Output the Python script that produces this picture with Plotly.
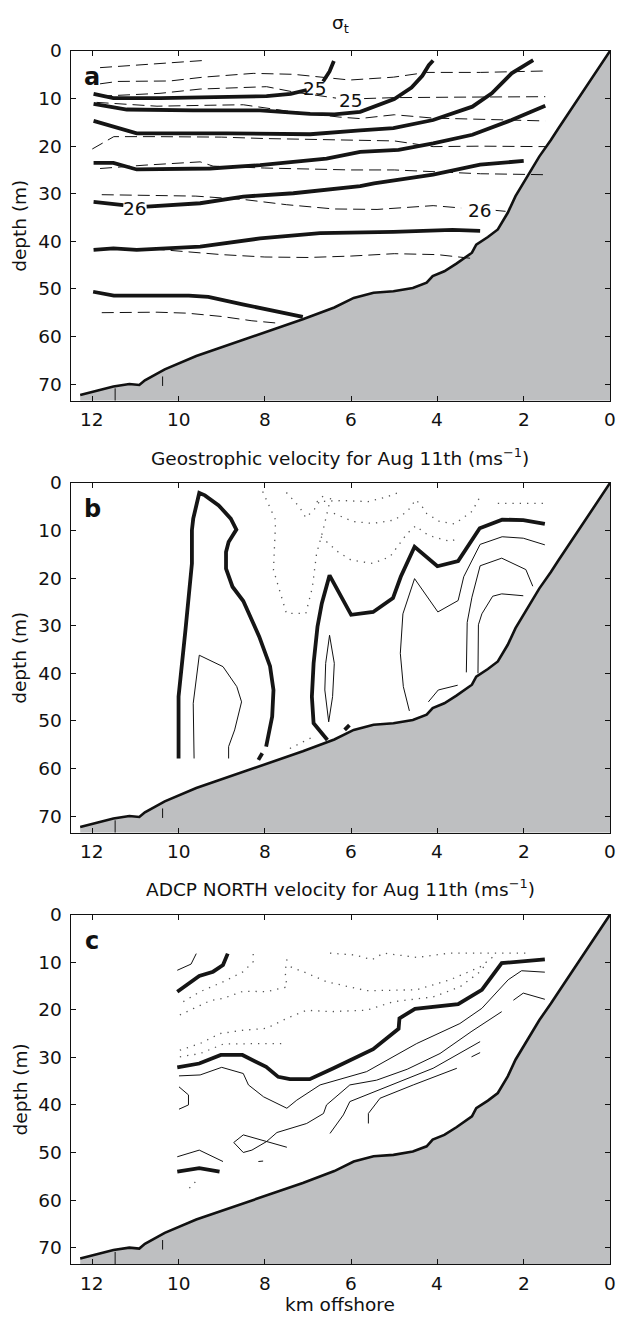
import plotly.graph_objects as go

# ---------------- data ----------------
# bathymetry (km offshore, depth m)
bathy_km = [12.28, 11.87, 11.51, 11.14, 10.91, 10.78, 10.32, 9.59, 8.68, 7.76, 7.12, 6.39, 5.94,
            5.48, 5.02, 4.57, 4.25, 4.11, 3.84, 3.56, 3.20, 3.10, 2.83, 2.60, 2.37, 2.19, 1.92,
            1.64, 1.37, 1.19, 0.0]
bathy_depth = [72.3, 71.4, 70.5, 70.0, 70.2, 69.2, 66.9, 64.1, 61.3, 58.5, 56.4, 53.9, 51.9,
               50.8, 50.5, 49.8, 48.7, 47.3, 46.3, 44.7, 42.4, 40.7, 39.1, 37.5, 34.0, 30.5, 26.3,
               22.2, 18.7, 16.2, 0.0]
station_km = [11.47, 10.37]
station_top = [70.9, 68.4]
station_bottom = [73.5, 70.4]

x_ticks = [12, 10, 8, 6, 4, 2, 0]
y_ticks = [0, 10, 20, 30, 40, 50, 60, 70]
x_range = [12.5, 0]
y_range = [73.5, 0]

# panel a: sigma_t
a_thick = [
    [(11.97, 9.0), (11.51, 9.9), (10.43, 9.9), (8.88, 9.6), (7.96, 9.5), (7.4, 9.0), (7.03, 8.2), None,
     (6.65, 6.4), (6.5, 4.3), (6.4, 2.1)],
    [(11.97, 11.1), (11.5, 11.9), (11.2, 12.3), (9.66, 12.5), (8.11, 12.5), (6.95, 13.2), (6.39, 13.3),
     (5.79, 12.8), (5.38, 11.5), (5.0, 10.1), (4.6, 7.7), (4.35, 5.2), (4.2, 3.0), (4.1, 2.0)],
    [(11.97, 14.7), (11.43, 16.0), (10.97, 17.3), (8.88, 17.3), (6.95, 17.5), (5.79, 16.7), (5.02, 16.2),
     (4.1, 14.5), (3.19, 11.7), (2.74, 8.9), (2.28, 4.7), (1.78, 1.9)],
    [(11.97, 23.5), (11.51, 23.5), (10.97, 24.9), (9.27, 24.7), (8.11, 24.0), (6.57, 22.6), (5.79, 21.2),
     (4.9, 20.8), (4.1, 19.4), (3.19, 17.6), (2.28, 14.5), (1.5, 11.5)],
    [(11.97, 31.7), (11.28, 32.4), None, (10.74, 32.7), (9.5, 32.0), (8.5, 30.6), (7.34, 29.9),
     (5.79, 28.4), (5.47, 27.8), (4.1, 26.0), (3.01, 23.9), (2.0, 23.1)],
    [(11.97, 41.8), (11.51, 41.5), (10.97, 41.8), (9.5, 41.1), (8.11, 39.4), (6.72, 38.3), (5.02, 38.0),
     (3.65, 37.6), (3.01, 37.8)],
    [(11.98, 50.6), (11.5, 51.4), (9.76, 51.4), (9.31, 51.7), (8.49, 53.3), (7.12, 55.9)],
]
a_dashed = [
    [(11.82, 3.5), (10.6, 2.8), (9.43, 2.0)],
    [(11.82, 6.9), (11.42, 6.4), (10.2, 6.3), (9.43, 5.5), (8.27, 4.7), (7.34, 4.9), (6.03, 6.1),
     (5.02, 5.5), (4.25, 4.5), (3.0, 4.5), (1.5, 4.2)],
    [(11.82, 9.5), (10.43, 8.9), (9.5, 8.0), (7.96, 7.5), (7.34, 8.6), (6.6, 9.5), (6.35, 9.9), None,
     (5.7, 10.0), (5.0, 9.8), (3.5, 9.7), (1.5, 9.6)],
    [(11.9, 10.8), (10.5, 11.6), (9.27, 11.4), (8.5, 11.3), (7.5, 12.6), (6.26, 13.9), (5.8, 14.2),
     (5.0, 13.4), (4.1, 14.1), (3.0, 14.4), (1.5, 14.7)],
    [(12.0, 20.6), (11.5, 18.0), (10.5, 18.0), (9.0, 18.1), (8.0, 18.4), (7.0, 18.6), (6.0, 18.8),
     (5.0, 18.9), (4.1, 20.1), (3.0, 20.0), (1.5, 20.1)],
    [(11.82, 24.7), (10.8, 24.0), (9.5, 23.3), (9.2, 24.2), (8.0, 24.6), (7.0, 24.8), (6.0, 25.0),
     (5.0, 25.0), (4.0, 25.4), (3.0, 25.8), (1.5, 26.0)],
    [(11.78, 30.2), (10.5, 30.3), (9.6, 30.5), (8.5, 31.2), (7.5, 32.3), (6.4, 33.2), (5.4, 33.3),
     (4.1, 32.5), (3.45, 33.0), None, (2.65, 33.5), (2.42, 33.7)],
    [(10.6, 41.6), (10.0, 42.0), (9.0, 42.8), (8.0, 43.3), (7.0, 43.4), (6.0, 43.1), (5.0, 42.6),
     (4.0, 42.8), (3.2, 43.6)],
    [(11.78, 55.0), (10.5, 54.9), (9.8, 55.1), (9.0, 55.8), (8.3, 56.7), (7.7, 57.2)],
]
a_labels = [("25", 6.84, 7.8), ("25", 6.0, 10.3), ("26", 11.0, 33.1), ("26", 3.01, 33.5)]

# panel b: geostrophic velocity
b_thick = [
    [(10.0, 57.9), (10.0, 44.9), (9.84, 30.9), (9.69, 16.9), (9.69, 9.9), (9.66, 7.5), (9.52, 2.1),
     (9.39, 2.6), (9.07, 4.7), (8.79, 7.5), (8.66, 9.8), (8.84, 12.4), (8.9, 14.5), (8.9, 18.0),
     (8.75, 21.8), (8.5, 24.8), (8.13, 32.3), (7.88, 38.5), (7.8, 43.5), (7.83, 49.1), (7.97, 55.4),
     None, (8.06, 56.8), (8.15, 58.2)],
    [(6.55, 54.0), (6.87, 50.5), (6.91, 44.9), (6.87, 37.9), (6.78, 30.2), (6.68, 25.3), (6.5, 19.4),
     (6.0, 27.7), (5.49, 27.1), (5.03, 24.2), (4.85, 19.7), (4.53, 13.4), (4.0, 17.5), (3.52, 16.4),
     (3.02, 9.5), (2.5, 7.7), (2.01, 7.8), (1.51, 8.6)],
    [(6.15, 51.9), (6.04, 50.9)],
]
b_thin = [
    [(9.64, 57.9), (9.66, 46.3), (9.52, 36.2), (8.97, 38.6), (8.65, 42.8), (8.54, 46.0), (8.7, 51.9),
     (8.84, 55.4), (8.84, 57.9)],
    [(6.5, 32.0), (6.59, 37.9), (6.61, 43.5), (6.52, 50.2), (6.43, 44.9), (6.39, 37.9), (6.5, 32.0)],
    [(4.65, 47.9), (4.79, 42.8), (4.86, 35.8), (4.8, 27.5), (4.53, 20.1), (3.99, 27.1), (3.52, 24.7),
     (3.39, 19.7), (3.01, 12.9), (2.5, 11.3), (2.01, 11.6), (1.51, 13.0)],
    [(3.33, 39.8), (3.31, 29.3), (3.2, 24.0), (3.01, 17.4), (2.51, 15.8), (1.95, 18.2), (1.79, 21.7)],
    [(3.06, 40.0), (3.05, 29.8), (2.97, 27.5), (2.72, 23.8), (2.51, 23.3), (2.01, 23.7)],
    [(4.21, 46.0), (3.98, 43.5), (3.53, 42.5)],
]
b_dotted = [
    [(8.05, 1.8), (7.75, 7.8), (7.8, 18.3), (7.5, 27.4), (7.05, 27.4), (6.9, 22.0), (6.8, 14.8),
     (6.65, 9.9), (6.45, 2.2)],
    [(7.5, 2.0), (7.2, 5.0), (7.05, 7.3), (6.85, 5.5), (6.6, 2.0)],
    [(6.8, 3.9), (6.2, 3.7), (5.6, 3.9), (5.2, 3.0), (4.9, 2.0)],
    [(6.4, 6.4), (5.95, 8.1), (5.5, 8.5), (5.0, 7.8), (4.7, 6.0), (4.5, 3.5), (4.35, 5.0), (4.25, 6.4),
     (3.95, 8.1), (3.6, 8.6), (3.2, 6.0), (2.97, 2.2)],
    [(6.7, 11.3), (6.3, 14.5), (6.0, 16.2), (5.5, 16.9), (5.1, 15.5), (4.7, 10.6), (4.5, 9.0),
     (4.3, 10.5), (4.1, 11.3), (3.7, 12.3), (3.5, 11.5)],
    [(2.6, 4.3), (2.0, 4.3), (1.55, 4.3)],
    [(7.42, 55.8), (6.87, 53.3)],
]

# panel c: ADCP north velocity
c_thick = [
    [(10.03, 16.2), (9.8, 14.8), (9.52, 12.9), (9.2, 12.0), (8.97, 10.6), (8.86, 8.2)],
    [(10.03, 32.1), (9.52, 31.3), (9.02, 29.5), (8.52, 29.5), (7.97, 32.0), (7.69, 34.1), (7.42, 34.6),
     (6.96, 34.6), (6.41, 32.3), (5.49, 28.3), (4.9, 24.0), (4.88, 21.8), (4.52, 19.8), (3.52, 18.8),
     (2.97, 15.8), (2.51, 10.2), (1.51, 9.4)],
    [(10.03, 54.0), (9.52, 53.3), (9.05, 54.0)],
]
c_thin = [
    [(10.03, 11.7), (9.71, 10.4), (9.59, 8.2)],
    [(9.99, 33.9), (9.5, 33.7), (9.0, 32.1), (8.5, 33.4), (8.38, 35.8), (8.03, 38.3), (7.49, 40.7),
     (7.26, 39.0), (6.72, 35.8), (5.79, 33.4), (5.64, 33.0), (4.48, 27.1), (3.48, 22.9), (2.97, 19.7),
     (2.36, 13.7), (2.05, 11.8), (1.51, 12.1)],
    [(9.99, 36.2), (9.77, 37.9), (9.77, 40.0), (9.99, 40.9)],
    [(7.49, 48.9), (8.5, 46.3), (8.72, 47.9), (8.5, 50.0), (8.3, 49.5), (7.96, 47.7), (7.72, 45.8),
     (7.03, 43.9), (6.64, 41.8), (6.57, 40.0), (6.03, 35.8), (5.41, 34.8), (4.7, 32.5), (3.94, 29.2),
     (3.2, 24.5), (2.51, 20.4)],
    [(6.49, 46.0), (6.18, 42.1), (6.03, 39.3), (5.17, 36.2), (4.1, 32.3), (3.01, 26.7)],
    [(3.21, 29.9), (3.01, 29.0)],
    [(5.6, 43.9), (5.6, 41.8), (5.33, 38.6), (4.56, 35.8), (3.55, 32.3)],
    [(2.24, 18.0), (2.01, 16.5), (1.51, 17.8)],
    [(10.03, 50.9), (9.52, 49.5), (8.97, 51.9)],
    [(8.15, 51.9), (8.04, 51.8)],
]
c_dotted = [
    [(9.97, 21.1), (9.66, 19.7), (9.27, 18.1), (8.96, 17.6), (8.5, 16.1), (7.96, 16.2), (7.49, 15.2),
     (7.53, 12.0), (7.49, 9.5), (7.45, 8.2)],
    [(7.4, 11.0), (7.03, 12.3), (6.57, 14.1), (5.64, 16.0), (4.48, 15.8), (3.71, 13.7), (3.01, 11.0),
     (2.7, 8.8)],
    [(9.89, 18.3), (9.5, 16.2), (8.96, 14.1), (8.5, 12.0), (8.27, 9.9), (8.27, 8.2)],
    [(9.97, 28.5), (9.5, 27.1), (9.04, 25.0), (8.5, 24.3), (7.96, 23.9), (7.49, 21.8), (7.03, 20.1),
     (6.49, 20.4), (5.64, 20.1), (5.02, 18.3), (4.1, 17.3), (3.48, 15.2), (3.01, 12.0), (2.85, 10.0)],
    [(9.97, 29.9), (9.5, 29.2), (8.96, 27.2), (8.5, 27.1), (7.96, 27.1), (7.49, 27.1)],
    [(6.49, 8.1), (5.9, 8.5), (5.52, 9.5), (5.25, 8.1), (4.48, 9.0), (3.71, 8.1), (2.55, 8.1), (1.93, 8.1)],
    [(9.75, 57.5), (9.57, 55.8)],
]

panel_letters = ["a", "b", "c"]
panel_titles = ["σ<sub>t</sub>",
                "Geostrophic velocity for Aug 11th (ms<sup>−1</sup>)",
                "ADCP NORTH velocity for Aug 11th (ms<sup>−1</sup>)"]

# ---------------- layout geometry (pixels) ----------------
W, H = 617, 1318
PX_L, PX_R = 70.7, 610.0
PANELS_PX = [(51.0, 400.7), (483.0, 832.7), (914.6, 1264.3)]
TITLE_Y = [24, 457, 888]
XLABEL_Y = 1304
XTICK_OFFSET = 19
FONT = "DejaVu Sans, Verdana, sans-serif"
FS = 18.5

THICK = dict(color="#151515", width=3.8)
THIN = dict(color="#111111", width=1.0)
DASHED = dict(color="#111111", width=1.0, dash="12px,6px")
DOTTED = dict(color="#555555", width=1.3, dash="1.3px,6px")


def xy(line):
    xs, ys = [], []
    for p in line:
        if p is None:
            xs.append(None)
            ys.append(None)
        else:
            xs.append(p[0])
            ys.append(p[1])
    return xs, ys


fig = go.Figure()

panel_sets = [
    [(a_dashed, DASHED), (a_thick, THICK)],
    [(b_dotted, DOTTED), (b_thin, THIN), (b_thick, THICK)],
    [(c_dotted, DOTTED), (c_thin, THIN), (c_thick, THICK)],
]

for i in range(3):
    sfx = "" if i == 0 else str(i + 1)
    xa, ya = "x" + sfx, "y" + sfx
    # sea floor fill
    fx = bathy_km + [bathy_km[-1], bathy_km[0]]
    fy = bathy_depth + [y_range[0], y_range[0]]
    fig.add_trace(go.Scatter(x=fx, y=fy, mode="lines", fill="toself", fillcolor="#bebfc1",
                             line=dict(width=0, color="#bebfc1"), hoverinfo="skip",
                             showlegend=False, xaxis=xa, yaxis=ya))
    for lines, style in panel_sets[i]:
        for ln in lines:
            lx, ly = xy(ln)
            fig.add_trace(go.Scatter(x=lx, y=ly, mode="lines", line=style, showlegend=False,
                                     hoverinfo="skip", xaxis=xa, yaxis=ya))
    # station sticks
    sx, sy = [], []
    for k, t, b in zip(station_km, station_top, station_bottom):
        sx += [k, k, None]
        sy += [t, b, None]
    fig.add_trace(go.Scatter(x=sx, y=sy, mode="lines", line=dict(color="#111", width=1),
                             showlegend=False, hoverinfo="skip", xaxis=xa, yaxis=ya))
    # bathymetry line
    fig.add_trace(go.Scatter(x=bathy_km, y=bathy_depth, mode="lines",
                             line=dict(color="#111", width=2.6), showlegend=False,
                             hoverinfo="skip", xaxis=xa, yaxis=ya))

layout = dict(width=W, height=H, margin=dict(l=0, r=0, t=0, b=0),
              paper_bgcolor="white", plot_bgcolor="white", showlegend=False,
              font=dict(family=FONT, size=FS, color="#111"))
annotations = []
for i in range(3):
    top, bot = PANELS_PX[i]
    key = "" if i == 0 else str(i + 1)
    common = dict(showgrid=False, zeroline=False, showline=True, linecolor="#111", linewidth=1.2,
                  mirror="ticks", ticks="inside", ticklen=5, tickwidth=1, tickcolor="#111",
                  tickfont=dict(family=FONT, size=FS, color="#111"), automargin=False)
    layout["xaxis" + key] = dict(common, domain=[PX_L / W, PX_R / W], range=x_range,
                                 tickvals=x_ticks, showticklabels=False, anchor="y" + key)
    layout["yaxis" + key] = dict(common, domain=[1 - bot / H, 1 - top / H], range=y_range,
                                 tickvals=y_ticks, ticktext=[str(v) for v in y_ticks],
                                 anchor="x" + key, ticklabelstandoff=4)
    # x tick labels placed on the axis scale
    for v in x_ticks:
        annotations.append(dict(text=str(v), x=v, y=1 - (bot + XTICK_OFFSET) / H,
                                xref="x" + key, yref="paper", showarrow=False,
                                font=dict(family=FONT, size=FS, color="#111"),
                                xanchor="center", yanchor="middle"))
    # panel title
    annotations.append(dict(text=panel_titles[i], x=(PX_L + PX_R) / 2 / W, y=1 - TITLE_Y[i] / H,
                            xref="paper", yref="paper", showarrow=False,
                            font=dict(family=FONT, size=FS, color="#111"),
                            xanchor="center", yanchor="middle"))
    # y label
    annotations.append(dict(text="depth (m)", x=20 / W, y=1 - (top + bot) / 2 / H,
                            xref="paper", yref="paper", showarrow=False, textangle=-90,
                            font=dict(family=FONT, size=FS, color="#111"),
                            xanchor="center", yanchor="middle"))
    # panel letter
    annotations.append(dict(text="<b>" + panel_letters[i] + "</b>", x=12.0, y=5.5,
                            xref="x" + key, yref="y" + key, showarrow=False,
                            font=dict(family=FONT, size=24, color="#111"),
                            xanchor="center", yanchor="middle"))

for txt, kx, dy in a_labels:
    annotations.append(dict(text=txt, x=kx, y=dy, xref="x", yref="y", showarrow=False,
                            font=dict(family=FONT, size=FS, color="#111"),
                            xanchor="center", yanchor="middle"))

annotations.append(dict(text="km offshore", x=(PX_L + PX_R) / 2 / W, y=1 - XLABEL_Y / H,
                        xref="paper", yref="paper", showarrow=False,
                        font=dict(family=FONT, size=FS, color="#111"),
                        xanchor="center", yanchor="middle"))
layout["annotations"] = annotations
fig.update_layout(**layout)
# remove the default 8px page margin so the figure sits at the window's top-left corner
fig.write_html("out.html", config={"displayModeBar": False},
               post_script="document.body.style.margin='0';")
